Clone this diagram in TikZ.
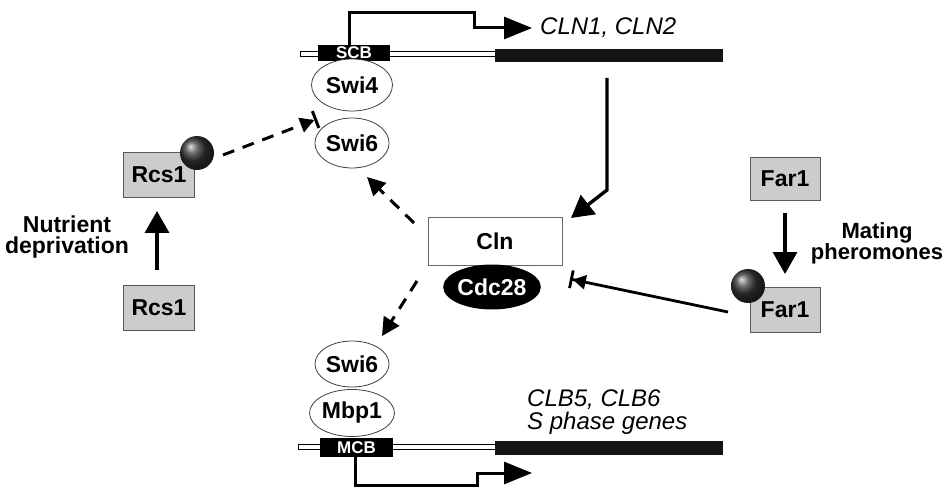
\documentclass[tikz,border=0pt]{standalone}
\usepackage{fontspec}
\setmainfont{Liberation Sans}
\usetikzlibrary{arrows.meta,shapes.geometric}
\begin{document}
\begin{tikzpicture}[x=1pt,y=-1pt,
  lbl/.style={font=\fontsize{23}{25}\selectfont\bfseries},
  prot/.style={ellipse,draw=black!75,line width=0.8pt,fill=white,inner sep=0pt,lbl},
  graybox/.style={rectangle,draw=black!65,fill=black!20,line width=0.9pt,inner sep=0pt,lbl,minimum width=71pt,minimum height=45pt},
  ballnode/.style={circle,shading=ball,ball color=black!80,minimum size=34pt,inner sep=0pt},
  solidarr/.style={line width=3.4pt,-{Triangle[length=22pt,width=24pt]}},
  promarr/.style={line width=3pt,-{Triangle[length=28pt,width=22pt]}},
  dasharr/.style={line width=3pt,dash pattern=on 12pt off 9pt,-{Triangle[length=18pt,width=18pt]}},
  inhdash/.style={line width=3pt,dash pattern=on 12pt off 9pt,-{Triangle[length=14pt,width=15pt] Bar[width=18pt]}},
  inhsolid/.style={line width=2.8pt,-{Triangle[length=13pt,width=14pt] Bar[width=18pt]}},
  genebar/.style={fill=black!92,draw=none},
  thinline/.style={fill=white,draw=black,line width=0.8pt},
  boxsite/.style={rectangle,fill=black,text=white,inner sep=0pt,text height=12pt,text depth=0pt,font=\fontsize{17}{17}\selectfont\bfseries},
  ital/.style={font=\fontsize{24}{26}\selectfont\itshape,inner sep=0pt},
  side/.style={font=\fontsize{23}{21}\selectfont\bfseries,align=center,inner sep=0pt}
]
\useasboundingbox (0,0) rectangle (945,489);
\fill[white] (0,0) rectangle (945,489);

% ---------- top gene ----------
\draw[thinline] (300,51) rectangle (495,56);
\fill[genebar] (495,49) rectangle (723,62);
\node[boxsite,minimum width=72pt,minimum height=16pt] (scb) at (354,53) {SCB};
\coordinate (p1) at (349,45);
\coordinate (p2) at (532,28);
\draw[promarr] (p1) |- (474,13) |- (p2);
\node[ital,anchor=west] (cln12) at (540,28) {CLN1, CLN2};

\node[prot,minimum width=81pt,minimum height=52pt] (swi4) at (352,85) {Swi4};
\node[prot,minimum width=63pt,minimum height=50pt] (swi6a) at (352,143) {Swi6};

% ---------- left: Rcs1 ----------
\node[graybox] (rcsA) at (159,174.5) {Rcs1};
\node[graybox] (rcsB) at (159,307.5) {Rcs1};
\node[ballnode] (ballA) at (197,153) {};
\coordinate (rUp0) at (157,270);
\coordinate (rUp1) at (157,211);
\draw[solidarr] (rUp0) -- (rUp1);
\node[side] (nut) at (67,237) {Nutrient\\deprivation};

\coordinate (inhA0) at (223,155);
\coordinate (inhA1) at (317,119);
\draw[inhdash] (inhA0) -- (inhA1);

% ---------- centre ----------
\node[rectangle,draw=black!60,fill=white,line width=0.9pt,lbl,minimum width=134pt,minimum height=48pt] (cln) at (495,241) {Cln};
\node[ellipse,fill=black,text=white,lbl,inner sep=0pt,minimum width=91pt,minimum height=45pt] (cdc) at (492,287) {Cdc28};

\coordinate (gA) at (607,78);
\coordinate (gB) at (607,190);
\coordinate (gC) at (571,218);
\draw[solidarr] (gA) -- (gB) -- (gC);

\coordinate (dA0) at (414,223);
\coordinate (dA1) at (367,177);
\draw[dasharr] (dA0) -- (dA1);
\coordinate (dB0) at (417,281);
\coordinate (dB1) at (382,336);
\draw[dasharr] (dB0) -- (dB1);

% ---------- right: Far1 ----------
\node[graybox,minimum width=70pt,minimum height=43pt] (farA) at (785,178.5) {Far1};
\node[graybox,minimum width=70pt,minimum height=45pt] (farB) at (785,309.5) {Far1};
\node[ballnode] (ballB) at (748,286) {};
\coordinate (fD0) at (785,213);
\coordinate (fD1) at (785,274);
\draw[solidarr] (fD0) -- (fD1);
\node[side,font=\fontsize{22}{21}\selectfont\bfseries] (mat) at (877,243) {Mating\\pheromones};
\coordinate (inhB0) at (728,312);
\coordinate (inhB1) at (570,279);
\draw[inhsolid] (inhB0) -- (inhB1);

% ---------- bottom gene ----------
\node[prot,minimum width=63pt,minimum height=46pt] (swi6b) at (352,364) {Swi6};
\node[prot,minimum width=81pt,minimum height=47pt] (mbp1) at (352,413) {Mbp1};
\draw[thinline] (298,444) rectangle (495,449);
\fill[genebar] (495,441) rectangle (723,455);
\node[boxsite,minimum width=73pt,minimum height=19pt] (mcb) at (356.5,447.5) {MCB};
\coordinate (q1) at (355,457);
\coordinate (q2) at (532,473);
\draw[promarr] (q1) |- (477,485) |- (q2);
\node[ital,anchor=west] (clb) at (527,400) {CLB5, CLB6};
\node[ital,anchor=west] (sph) at (527,423) {S phase genes};
\end{tikzpicture}
\end{document}
